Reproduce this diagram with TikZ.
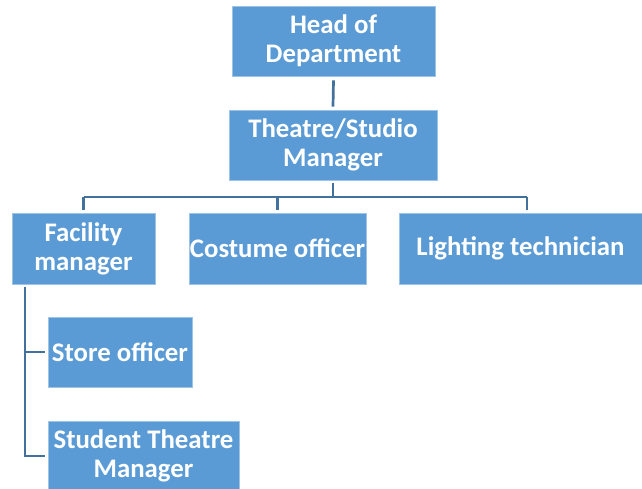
\documentclass[tikz,border=0pt]{standalone}
\usepackage{fontspec}
\setmainfont{Carlito}
\usepackage{tikz}

\definecolor{boxblue}{RGB}{91,155,213}
\definecolor{linkblue}{RGB}{65,113,156}

\tikzset{
  post/.style={draw=boxblue!60!white, line width=0.8pt, fill=boxblue, text=white,
    font=\fontsize{26.8}{29}\selectfont\bfseries, align=center, inner sep=0pt},
  link/.style={draw=linkblue, line width=2.7pt}
}

\begin{document}
\begin{tikzpicture}[x=1pt,y=-1pt]

\clip (0,0) rectangle (642,488);

% top of the chart
\node[post, minimum width=203, minimum height=70] (head) at (333.5,41) {Head of\\Department};
\node[post, minimum width=208, minimum height=70] (theatre) at (333,145) {Theatre/Studio\\Manager};

% second level
\node[post, minimum width=143, minimum height=71] (facility) at (83.5,248.5) {Facility\\manager};
\node[post, minimum width=177, minimum height=71] (costume) at (277.5,248.5) {Costume officer};
\node[post, minimum width=243, minimum height=71] (lighting) at (520.5,248.5) {Lighting technician};

% under the facility manager
\node[post, minimum width=144, minimum height=70] (store) at (120,352) {Store officer};
\node[post, minimum width=191, minimum height=70] (student) at (143.5,456) {Student Theatre\\Manager};

\draw[link] ([yshift=-4pt]head.south) -- ([yshift=3pt]theatre.north);

\coordinate (bar) at (333,197);
\draw[link] ([yshift=-3pt]theatre.south) -- (bar);
\draw[link] (facility.north |- bar) -- ([xshift=6.5pt]lighting.north |- bar);
\draw[link] (facility.north |- bar) -- ([yshift=3pt]facility.north);
\draw[link] (costume.north |- bar) -- ([yshift=3pt]costume.north);
\draw[link] ([xshift=6.5pt]lighting.north |- bar) -- ([xshift=6.5pt,yshift=3pt]lighting.north);

\coordinate (spine) at (25,287);
\draw[link] (spine) |- ([xshift=-3pt]student.west);
\draw[link] (spine |- store.west) -- ([xshift=-3pt]store.west);

\end{tikzpicture}
\end{document}
